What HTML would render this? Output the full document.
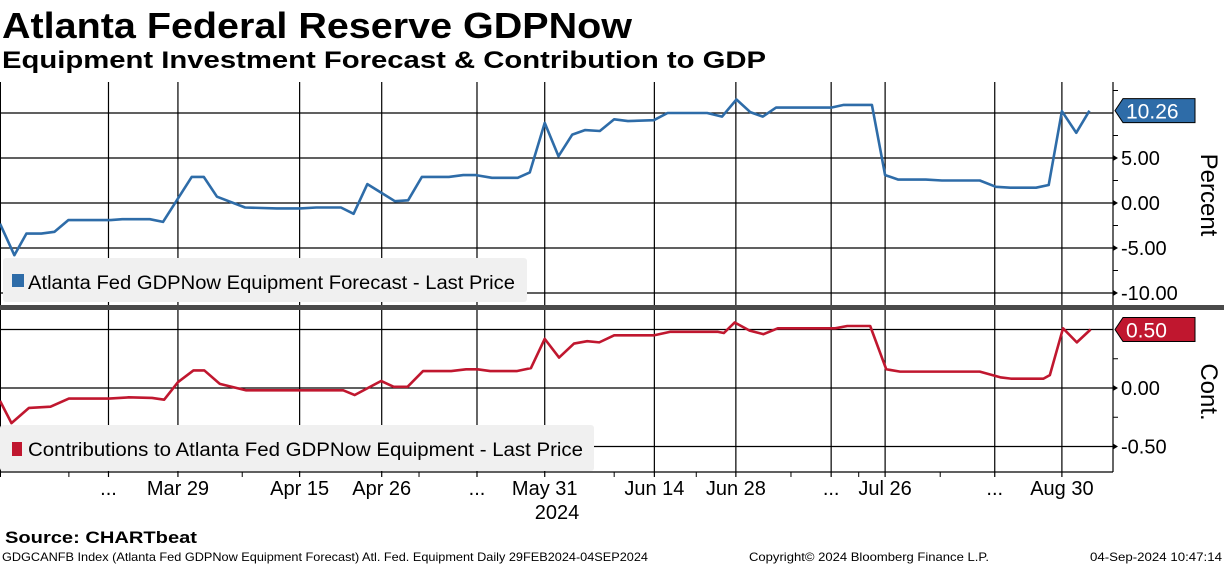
<!DOCTYPE html>
<html><head><meta charset="utf-8">
<style>
html,body{margin:0;padding:0;background:#fff;}
svg{display:block;font-family:"Liberation Sans Narrow","Liberation Sans",sans-serif;}
</style></head>
<body>
<svg id="chart" width="1224" height="566" viewBox="0 0 1224 566" xmlns="http://www.w3.org/2000/svg">
  <rect width="1224" height="566" fill="#fff"/>
  <text x="2" y="38" font-family="Liberation Sans, sans-serif" font-weight="bold" font-size="36" textLength="630" lengthAdjust="spacingAndGlyphs">Atlanta Federal Reserve GDPNow</text>
  <text x="2" y="68" font-family="Liberation Sans, sans-serif" font-weight="bold" font-size="24" textLength="764" lengthAdjust="spacingAndGlyphs">Equipment Investment Forecast &amp; Contribution to GDP</text>
  <g id="grid"></g>
  <rect x="0" y="305" width="1224" height="5" fill="#4a4a4a"/>
  <rect x="3" y="258" width="524" height="44" rx="3" fill="#f0f0f0"/>
  <rect x="12" y="274" width="12" height="13" fill="#2e6ca8"/>
  <text x="28" y="289" font-size="19" textLength="487" lengthAdjust="spacingAndGlyphs">Atlanta Fed GDPNow Equipment Forecast - Last Price</text>
  <rect x="0" y="425" width="594" height="46" rx="3" fill="#f0f0f0"/>
  <rect x="12" y="442" width="10" height="14" fill="#c0172f"/>
  <text x="28" y="456" font-size="19" textLength="555" lengthAdjust="spacingAndGlyphs">Contributions to Atlanta Fed GDPNow Equipment - Last Price</text>
  <g id="series"></g>
  <text transform="translate(1201,195) rotate(90)" text-anchor="middle" font-size="24">Percent</text>
  <text transform="translate(1201,392) rotate(90)" text-anchor="middle" font-size="24">Cont.</text>
  <text x="557" y="519" text-anchor="middle" font-size="20">2024</text>
  <text x="5" y="543" font-family="Liberation Sans, sans-serif" font-weight="bold" font-size="17" textLength="192" lengthAdjust="spacingAndGlyphs">Source: CHARTbeat</text>
  <text x="2" y="561" font-size="12" textLength="646" lengthAdjust="spacingAndGlyphs">GDGCANFB Index (Atlanta Fed GDPNow Equipment Forecast) Atl. Fed. Equipment  Daily 29FEB2024-04SEP2024</text>
  <text x="749" y="561" font-size="12" textLength="240" lengthAdjust="spacingAndGlyphs">Copyright© 2024 Bloomberg Finance L.P.</text>
  <text x="1090" y="561" font-size="12" textLength="132" lengthAdjust="spacingAndGlyphs">04-Sep-2024 10:47:14</text>
</svg>
<script>
// day offsets from Feb 29 2024 and values
const topDays = [-2.0,0.5,2.6,5.2,7.5,9.9,17.3,19.3,24.1,26.4,31.4,33.5,35.8,40.7,46.2,50.3,53.1,57.4,59.6,62.0,66.8,69.1,71.5,76.2,78.7,80.9,83.7,88.2,90.3,92.9,95.3,97.7,99.9,102.5,105.0,107.4,111.9,114.3,121.2,123.8,126.3,128.7,130.9,133.2,142.8,145.0,149.9,152.2,154.5,159.3,162.1,168.7,171.5,174.0,178.5,180.7,183.0,185.5,187.8];
const topValues = [-2.3,-5.8,-3.4,-3.4,-3.2,-1.9,-1.9,-1.8,-1.8,-2.1,2.9,2.9,0.7,-0.5,-0.6,-0.6,-0.5,-0.5,-1.2,2.1,0.2,0.3,2.9,2.9,3.1,3.1,2.8,2.8,3.4,8.9,5.2,7.6,8.1,8.0,9.3,9.1,9.2,10.0,10.0,9.6,11.5,10.1,9.6,10.6,10.6,10.9,10.9,3.1,2.6,2.6,2.5,2.5,1.8,1.7,1.7,2.0,10.2,7.8,10.26];
const botDays = [-2.0,0.0,3.05,6.8,10.0,17.0,20.4,24.5,26.6,29.0,31.7,33.6,36.3,40.9,57.8,59.8,64.4,66.6,69.0,71.7,76.6,79.2,81.2,83.4,88.1,90.5,92.9,95.4,98.0,100.3,102.4,105.0,111.9,114.7,123.1,124.1,126.0,128.6,131.0,133.5,143.5,145.6,149.6,152.4,154.8,168.7,172.4,174.1,179.8,180.9,183.2,185.6,188.0];
const botValues = [-0.11,-0.30,-0.17,-0.16,-0.09,-0.09,-0.08,-0.085,-0.10,0.05,0.15,0.15,0.035,-0.02,-0.02,-0.06,0.06,0.01,0.01,0.145,0.145,0.16,0.16,0.145,0.145,0.17,0.42,0.26,0.38,0.40,0.39,0.45,0.45,0.48,0.48,0.47,0.56,0.49,0.46,0.51,0.51,0.53,0.53,0.16,0.14,0.14,0.09,0.08,0.08,0.11,0.51,0.39,0.50];
const xTickLabels = ["...","Mar 29","Apr 15","Apr 26","...","May 31","Jun 14","Jun 28","...","Jul 26","...","Aug 30"];
const xTickDays = [16.9,29,50.2,64.5,81.1,92.9,112,126.2,142.8,152.2,171.3,183];
const xMinorDays = [10,40.2,71,105,119.3,135.8,147.6,161.8];
const topTicks = [5,0,-5,-10];
const topTickLabels = ["5.00","0.00","-5.00","-10.00"];
const botTicks = [0,-0.5];
const botTickLabels = ["0.00","-0.50"];

const NS="http://www.w3.org/2000/svg";
const PW=1113;
const xS=d=>(d+2)*5.74;
const yTop=v=>203-v*9;
const yBot=v=>388-v*117;
function mk(tag,attrs,parent){const e=document.createElementNS(NS,tag);for(const k in attrs)e.setAttribute(k,attrs[k]);parent.appendChild(e);return e;}
const grid=document.getElementById('grid');
const series=document.getElementById('series');
const svg=document.getElementById('chart');

xTickDays.forEach((d,i)=>{
  const x=xS(d);
  const l1=mk('line',{x1:x,x2:x,y1:82,y2:305,stroke:'#000','stroke-width':1.2},grid);
  
  
  const l2=mk('line',{x1:x,x2:x,y1:310,y2:477,stroke:'#000','stroke-width':1.2},grid);
  
  
  const t=mk('text',{x:x,y:495,'text-anchor':'middle','font-size':20},svg);
  t.textContent=xTickLabels[i];
  
  
});
xMinorDays.forEach(d=>{
  const x=xS(d);
  const l=mk('line',{x1:x,x2:x,y1:472,y2:477,stroke:'#000','stroke-width':1},grid);
  
  
});
[10,5,0,-5,-10].forEach(v=>{
  const l=mk('line',{x1:0,x2:PW,y1:yTop(v),y2:yTop(v),stroke:'#000','stroke-width':1.2},grid);
  
  
});
[0.5,0,-0.5].forEach(v=>{
  const l=mk('line',{x1:0,x2:PW,y1:yBot(v),y2:yBot(v),stroke:'#000','stroke-width':1.2},grid);
  
  
});
const ax1=mk('line',{x1:PW,x2:PW,y1:82,y2:305,stroke:'#000','stroke-width':1.2},grid);


const ax2=mk('line',{x1:PW,x2:PW,y1:310,y2:472,stroke:'#000','stroke-width':1.2},grid);


const ax3=mk('line',{x1:0,x2:PW,y1:472,y2:472,stroke:'#000','stroke-width':1.2},grid);


const ax4=mk('line',{x1:0.5,x2:0.5,y1:82,y2:477,stroke:'#000','stroke-width':1},grid);


[12.5,7.5,2.5,-2.5,-7.5].forEach(v=>{
  const l=mk('line',{x1:PW,x2:PW+5,y1:yTop(v),y2:yTop(v),stroke:'#000'},grid);
  
  
});
[0.25,-0.25].forEach(v=>{
  const l=mk('line',{x1:PW,x2:PW+5,y1:yBot(v),y2:yBot(v),stroke:'#000'},grid);
  
  
});
topTicks.forEach((v,i)=>{
  const y=yTop(v);
  mk('path',{d:`M${PW} ${y-3}L${PW+5} ${y}L${PW} ${y+3}Z`,fill:'#000'},grid);
  const t=mk('text',{x:PW+8,y:y+7,'font-size':20},svg);
  t.textContent=topTickLabels[i];
  
  
});
botTicks.forEach((v,i)=>{
  const y=yBot(v);
  mk('path',{d:`M${PW} ${y-3}L${PW+5} ${y}L${PW} ${y+3}Z`,fill:'#000'},grid);
  const t=mk('text',{x:PW+8,y:y+7,'font-size':20},svg);
  t.textContent=botTickLabels[i];
  
  
});
const p1=mk('polyline',{points:topDays.map((d,i)=>xS(d)+','+yTop(topValues[i])).join(' '),fill:'none',stroke:'#2e6ca8','stroke-width':2.6,'stroke-linejoin':'round'},series);


const p2=mk('polyline',{points:botDays.map((d,i)=>xS(d)+','+yBot(botValues[i])).join(' '),fill:'none',stroke:'#c0172f','stroke-width':2.6,'stroke-linejoin':'round'},series);


function tag(y,color,label,name){
  const g=mk('g',{},svg);
  
  
  mk('path',{d:`M${PW+2} ${y}L${PW+10} ${y-12}L1195 ${y-12}L1195 ${y+12}L${PW+10} ${y+12}Z`,fill:color,stroke:'#000','stroke-width':1},g);
  const t=mk('text',{x:PW+13,y:y+8,'font-size':21,fill:'#fff'},g);
  t.textContent=label;
}
const lastT=topValues[topValues.length-1], lastB=botValues[botValues.length-1];
tag(yTop(lastT),'#2e6ca8',lastT.toFixed(2),'top-last-value-tag');
tag(yBot(lastB),'#c0172f',lastB.toFixed(2),'bottom-last-value-tag');
</script>
</body></html>
